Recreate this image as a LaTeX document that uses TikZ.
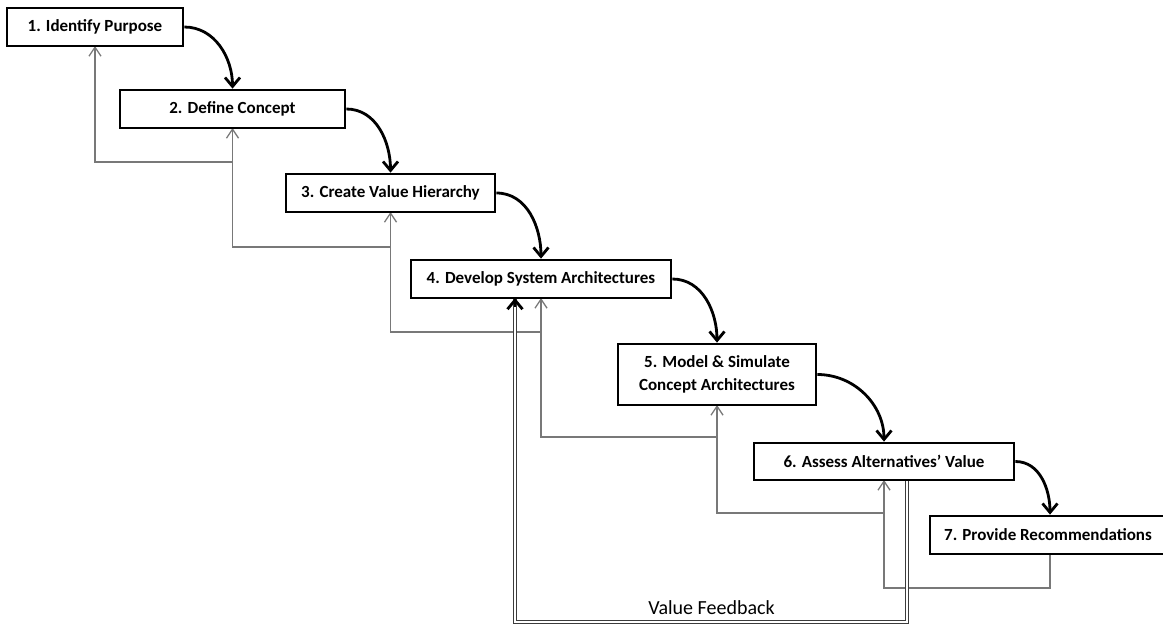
\documentclass[tikz,border=0pt]{standalone}
\usepackage{fontspec}
\setmainfont{Carlito}
\usetikzlibrary{arrows.meta,calc}
\definecolor{fbgray}{RGB}{120,120,120}
\definecolor{dblgray}{RGB}{60,60,60}
\begin{document}
\begin{tikzpicture}[x=1pt,y=-1pt,
  box/.style={draw=black, line width=2.7pt, fill=white, inner sep=0pt,
    minimum height=38pt, font=\bfseries\fontsize{17}{23}\selectfont, align=center},
  flow/.style={line width=2.8pt, -{Straight Barb[length=9pt,width=15pt]}},
  fb/.style={draw=fbgray, line width=1.3pt, -{Straight Barb[length=9pt,width=12pt]}},
  dbl/.style={draw=dblgray, line width=0.9pt, double=white, double distance=2pt}]
\useasboundingbox (0,0) rectangle (1163,624);

% coordinates of the feedback ladder
\coordinate (k1) at (232.5,162);
\coordinate (k2) at (390.5,247);
\coordinate (k3) at (541,332);
\coordinate (k4) at (717,437);
\coordinate (k5) at (884,513);
\coordinate (k6) at (884,588);
\coordinate (s7) at (1050,554);
\coordinate (d6) at (907,480);
\coordinate (dc) at (907,622);
\coordinate (dd) at (515,622);
\coordinate (de) at (515,299);
\coordinate (da) at (515,307);
\coordinate (t4) at (515,298);

% feedback lines
\draw[fb] (k1) -| (95,46);
\draw[fb] (k2) -| (232.5,128);
\draw[fb] (k3) -| (390.5,212);
\draw[fb] (k4) -| (541,298);
\draw[fb] (k5) -| (717,405);
\draw[fb] (s7) |- (k6) -- (884,480);

% value feedback double line
\draw[dbl] (d6) -- (dc) -- (dd) -- (de);
\draw[flow] (da) -- (t4);

% boxes
\node[box, minimum width=176pt] (b1) at (95,27) {1. Identify Purpose};
\node[box, minimum width=225pt] (b2) at (232.5,109) {2. Define Concept};
\node[box, minimum width=209pt] (b3) at (390.5,193) {3. Create Value Hierarchy};
\node[box, minimum width=260pt] (b4) at (541,279) {4. Develop System Architectures};
\node[box, minimum width=198pt, minimum height=61pt] (b5) at (717,374.5) {5. Model \& Simulate\\Concept Architectures};
\node[box, minimum width=260pt, minimum height=37pt] (b6) at (884,461.5) {6. Assess Alternatives’ Value};
\node[box, minimum width=236pt] (b7) at (1048,535) {7. Provide Recommendations};

% main flow
\draw[flow] (b1.east) to[out=0,in=90] (b2.north);
\draw[flow] (b2.east) to[out=0,in=90] (b3.north);
\draw[flow] (b3.east) to[out=0,in=90] (b4.north);
\draw[flow] (b4.east) to[out=0,in=90] (b5.north);
\draw[flow] (b5.east) to[out=0,in=90] (b6.north);
\draw[flow] (b6.east) to[out=0,in=90] ($(b7.north)+(2,0)$);

\node[font=\fontsize{20}{24}\selectfont, anchor=base] (vf) at (711.5,614) {Value Feedback};
\end{tikzpicture}
\end{document}
